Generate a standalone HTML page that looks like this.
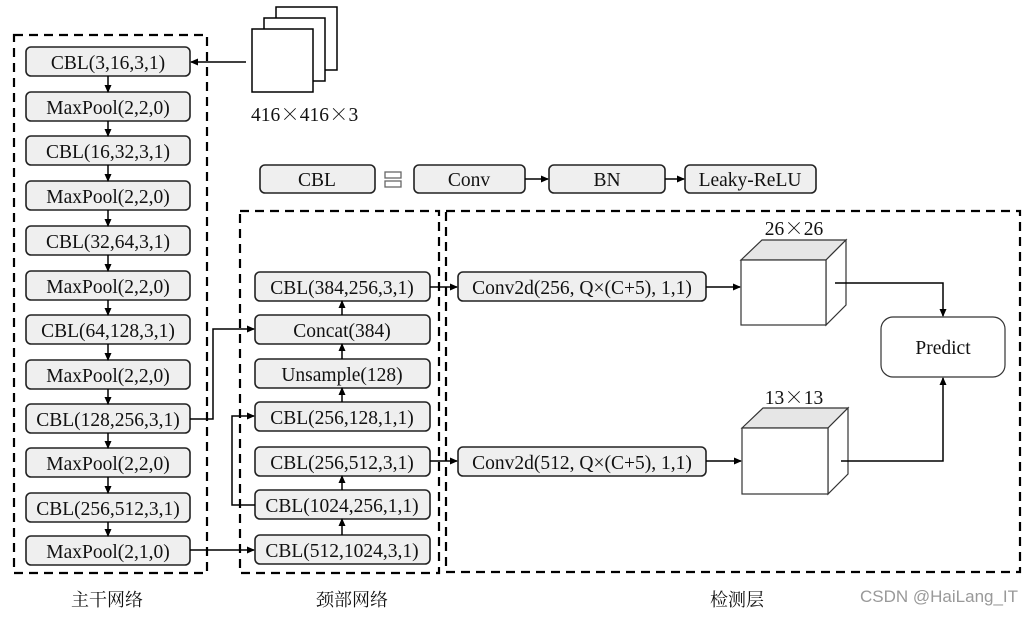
<!DOCTYPE html>
<html><head><meta charset="utf-8"><style>
body{margin:0;background:#fff;width:1030px;height:614px;overflow:hidden}
svg text{font-family:"Liberation Serif","Noto Serif CJK SC",serif;font-size:19.5px;fill:#111}
.x{font-family:"Noto Serif CJK SC","Noto Sans CJK SC",serif}
</style></head><body>
<svg width="1030" height="614" viewBox="0 0 1030 614" xmlns="http://www.w3.org/2000/svg">
<defs><marker id="a" markerWidth="8" markerHeight="8" refX="7" refY="4" orient="auto" markerUnits="userSpaceOnUse"><path d="M0,0.5 L8,4 L0,7.5z" fill="#000"/></marker></defs>
<g fill="none" stroke="#000" stroke-width="2.2" stroke-dasharray="9,6">
<rect x="14" y="35" width="193" height="538"/>
<rect x="240" y="211" width="199" height="362"/>
<rect x="446" y="211" width="574" height="361"/>
</g>
<g fill="#fff" stroke="#000" stroke-width="1.5">
<rect x="276" y="7" width="61" height="63"/><rect x="264" y="18" width="61" height="63"/><rect x="252" y="29" width="61" height="63"/>
</g>
<text x="251" y="121">416<tspan class="x">×</tspan>416<tspan class="x">×</tspan>3</text>
<g fill="#efefef" stroke="#222" stroke-width="1.6">
<rect x="26" y="47" width="164" height="29" rx="5"/><rect x="26" y="92" width="164" height="29" rx="5"/>
<rect x="26" y="136" width="164" height="29" rx="5"/><rect x="26" y="181" width="164" height="29" rx="5"/>
<rect x="26" y="226" width="164" height="29" rx="5"/><rect x="26" y="271" width="164" height="29" rx="5"/>
<rect x="26" y="315" width="164" height="29" rx="5"/><rect x="26" y="360" width="164" height="29" rx="5"/>
<rect x="26" y="404" width="164" height="29" rx="5"/><rect x="26" y="448" width="164" height="29" rx="5"/>
<rect x="26" y="493" width="164" height="29" rx="5"/><rect x="26" y="536" width="164" height="29" rx="5"/>
<rect x="260" y="165" width="115" height="28" rx="5"/><rect x="414" y="165" width="111" height="28" rx="5"/>
<rect x="549" y="165" width="116" height="28" rx="5"/><rect x="685" y="165" width="131" height="28" rx="5"/>
<rect x="255" y="272" width="175" height="29" rx="5"/><rect x="255" y="315" width="175" height="29" rx="5"/>
<rect x="255" y="359" width="175" height="29" rx="5"/><rect x="255" y="402" width="175" height="29" rx="5"/>
<rect x="255" y="447" width="175" height="29" rx="5"/><rect x="255" y="490" width="175" height="29" rx="5"/>
<rect x="255" y="535" width="175" height="29" rx="5"/>
<rect x="458" y="272" width="248" height="29" rx="5"/><rect x="458" y="447" width="248" height="29" rx="5"/>
</g>
<g stroke="#333" stroke-width="1.2">
<path d="M741,260 L762,240 L846,240 L826,260z" fill="#e6e6e6"/>
<path d="M826,260 L846,240 L846,305 L826,325z" fill="#fff"/>
<rect x="741" y="260" width="85" height="65" fill="#fff"/>
<path d="M742,428 L763,408 L848,408 L828,428z" fill="#e6e6e6"/>
<path d="M828,428 L848,408 L848,474 L828,494z" fill="#fff"/>
<rect x="742" y="428" width="86" height="66" fill="#fff"/>
<rect x="881" y="317" width="124" height="60" rx="12" fill="#fff"/>
</g>
<g text-anchor="middle">
<text x="108" y="69">CBL(3,16,3,1)</text><text x="108" y="114">MaxPool(2,2,0)</text>
<text x="108" y="158">CBL(16,32,3,1)</text><text x="108" y="203">MaxPool(2,2,0)</text>
<text x="108" y="248">CBL(32,64,3,1)</text><text x="108" y="293">MaxPool(2,2,0)</text>
<text x="108" y="337">CBL(64,128,3,1)</text><text x="108" y="382">MaxPool(2,2,0)</text>
<text x="108" y="426">CBL(128,256,3,1)</text><text x="108" y="470">MaxPool(2,2,0)</text>
<text x="108" y="515">CBL(256,512,3,1)</text><text x="108" y="558">MaxPool(2,1,0)</text>
<text x="317" y="186">CBL</text><text x="469" y="186">Conv</text><text x="607" y="186">BN</text><text x="750" y="186">Leaky-ReLU</text>
<text x="342" y="294">CBL(384,256,3,1)</text><text x="342" y="337">Concat(384)</text>
<text x="342" y="381">Unsample(128)</text><text x="342" y="424">CBL(256,128,1,1)</text>
<text x="342" y="469">CBL(256,512,3,1)</text><text x="342" y="512">CBL(1024,256,1,1)</text>
<text x="342" y="557">CBL(512,1024,3,1)</text>
<text x="582" y="294">Conv2d(256, Q×(C+5), 1,1)</text><text x="582" y="469">Conv2d(512, Q×(C+5), 1,1)</text>
<text x="794" y="235">26<tspan class="x">×</tspan>26</text><text x="794" y="404">13<tspan class="x">×</tspan>13</text>
<text x="943" y="354">Predict</text>
<text x="107" y="606" style="font-size:18px">主干网络</text><text x="352" y="606" style="font-size:18px">颈部网络</text><text x="737" y="606" style="font-size:18px">检测层</text>
</g>
<text x="860" y="602" style="font-family:'Liberation Sans',sans-serif;font-size:17px;fill:#999">CSDN @HaiLang_IT</text>
<g fill="none" stroke="#666" stroke-width="1.3"><rect x="385" y="172" width="16" height="6"/><rect x="385" y="181" width="16" height="6"/></g>
<g stroke="#000" stroke-width="1.5" fill="none" marker-end="url(#a)">
<line x1="246" y1="62" x2="191" y2="62"/>
<line x1="108" y1="76" x2="108" y2="92"/><line x1="108" y1="121" x2="108" y2="136"/>
<line x1="108" y1="165" x2="108" y2="181"/><line x1="108" y1="210" x2="108" y2="226"/>
<line x1="108" y1="255" x2="108" y2="271"/><line x1="108" y1="300" x2="108" y2="315"/>
<line x1="108" y1="344" x2="108" y2="360"/><line x1="108" y1="389" x2="108" y2="404"/>
<line x1="108" y1="433" x2="108" y2="448"/><line x1="108" y1="477" x2="108" y2="493"/>
<line x1="108" y1="522" x2="108" y2="536"/>
<line x1="525" y1="179" x2="548" y2="179"/><line x1="665" y1="179" x2="684" y2="179"/>
<line x1="342" y1="535" x2="342" y2="519"/><line x1="342" y1="490" x2="342" y2="476"/>
<line x1="342" y1="402" x2="342" y2="388"/><line x1="342" y1="359" x2="342" y2="344"/>
<line x1="342" y1="315" x2="342" y2="301"/>
<polyline points="190,419 213,419 213,329 254,329"/>
<line x1="190" y1="550" x2="254" y2="550"/>
<polyline points="255,505 232,505 232,416 254,416"/>
<line x1="430" y1="287" x2="457" y2="287"/><line x1="430" y1="461" x2="457" y2="461"/>
<line x1="706" y1="287" x2="740" y2="287"/><line x1="706" y1="461" x2="741" y2="461"/>
<polyline points="835,283 943,283 943,316"/>
<polyline points="841,461 943,461 943,378"/>
</g>
</svg>
</body></html>
